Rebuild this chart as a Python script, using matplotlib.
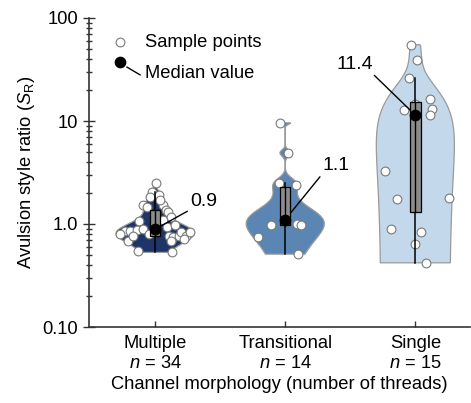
import numpy as np
import matplotlib.pyplot as plt
from matplotlib.ticker import FixedLocator, FixedFormatter, NullFormatter

plt.rcParams['font.family'] = ['Liberation Sans', 'DejaVu Sans']
plt.rcParams['mathtext.fontset'] = 'custom'
plt.rcParams['mathtext.rm'] = 'Liberation Sans'
plt.rcParams['mathtext.it'] = 'Liberation Sans:italic'

# avulsion style ratio, one list per channel type
categories = ["Multiple", "Transitional", "Single"]
multiple = [2.51, 2.05, 1.90, 1.83, 1.54, 1.52, 1.38, 1.31, 1.46, 1.10, 1.08, 1.10,
            1.17, 0.93, 0.97, 0.86, 0.86, 0.80, 0.88, 0.90, 0.77, 0.74, 0.77, 0.83,
            0.77, 0.83, 0.72, 0.69, 0.55, 0.53, 0.69, 0.80, 0.77, 1.70]
transitional = [9.6, 4.9, 2.5, 2.4, 1.9, 1.5, 1.12, 1.09, 1.05, 0.99, 0.98, 0.97,
                0.75, 0.51]
single = [55, 39.4, 25.9, 16.2, 13.2, 11.4, 12.8, 14.5, 3.3, 1.73, 1.77, 0.90,
          0.84, 0.64, 0.42]
# horizontal scatter of the sample points
multiple_jitter = [0.01, -0.02, 0.03, -0.04, -0.09, 0.06, 0.08, 0.10, -0.06, 0.0,
                   -0.12, 0.06, 0.12, 0.09, 0.15, -0.23, -0.19, -0.27, -0.14, -0.09,
                   0.11, 0.14, 0.18, 0.20, 0.24, 0.27, 0.22, -0.21, -0.13, 0.13,
                   0.12, -0.05, -0.17, 0.04]
transitional_jitter = [-0.04, 0.02, -0.05, 0.08, 0.0, 0.0, 0.0, 0.0, 0.0, 0.09, 0.12,
                       -0.11, -0.21, 0.10]
single_jitter = [-0.03, 0.01, -0.05, 0.11, 0.13, 0.11, -0.09, 0.0, -0.23, -0.14,
                 0.26, -0.19, 0.04, 0.0, 0.08]
colors = ["#1d3568", "#5b86b4", "#c3d8ea"]
counts = [34, 14, 15]

groups = [multiple, transitional, single]
jitters = [multiple_jitter, transitional_jitter, single_jitter]


def kde(vals, grid):
    # normal kernel, bandwidth from the median absolute deviation
    sig = np.median(np.abs(vals - np.median(vals))) / 0.6745
    h = sig * (4 / (3 * len(vals))) ** 0.2
    z = (grid[:, None] - vals[None, :]) / h
    return np.exp(-0.5 * z ** 2).sum(axis=1)


fig = plt.figure(figsize=(4.71, 4.03), dpi=100)
ax = fig.add_axes([89 / 471, 1 - 327 / 403, 381 / 471, 309 / 403])
ax.set_yscale('log')

half_width = 0.3
label_offsets = [(35, 28), (37, 54), (-42, 51)]

for i, (vals, jit, col) in enumerate(zip(groups, jitters, colors)):
    vals = np.array(vals, dtype=float)
    yy = np.logspace(np.log10(vals.min()), np.log10(vals.max()), 400)
    dens = kde(vals, yy)
    dens = dens / dens.max() * half_width
    xs = np.concatenate([i - dens, (i + dens)[::-1]])
    ys = np.concatenate([yy, yy[::-1]])
    ax.fill(xs, ys, facecolor=col, edgecolor='#9a9a9a', linewidth=0.9, zorder=1)

    # sample points
    ax.scatter(i + np.array(jit), vals, s=40, facecolor='white', edgecolor='#7a7a7a',
               linewidth=0.8, zorder=2)

    # box and whiskers
    q1, med, q3 = np.percentile(vals, [25, 50, 75])
    iqr = q3 - q1
    hi = vals[vals <= q3 + 1.5 * iqr].max()
    lo = vals[vals >= q1 - 1.5 * iqr].min()
    ax.plot([i, i], [lo, hi], color='black', lw=1.1, zorder=3)
    ax.add_patch(plt.Rectangle((i - 0.04, q1), 0.08, q3 - q1, facecolor='#8c8c8c',
                               edgecolor='black', linewidth=0.9, zorder=4))
    ax.plot([i, i], [q1, q3], color='black', lw=1.0, zorder=5)
    ax.scatter([i], [med], s=55, color='black', zorder=6)
    ax.annotate(f"{med:.1f}", xy=(i, med), xytext=label_offsets[i],
                textcoords='offset pixels', fontsize=14,
                ha='left' if i < 2 else 'right', va='center',
                arrowprops=dict(arrowstyle='-', color='black', lw=1.0,
                                relpos=(0, 0) if i < 2 else (0.95, 0),
                                shrinkA=0, shrinkB=3))

# legend drawn by hand
ax.scatter([0.081], [0.922], s=40, facecolor='white', edgecolor='#7a7a7a',
           linewidth=0.8, transform=ax.transAxes, clip_on=False)
ax.text(0.147, 0.922, "Sample points", transform=ax.transAxes, fontsize=13.2,
        va='center')
ax.scatter([0.081], [0.858], s=55, color='black', transform=ax.transAxes, clip_on=False)
ax.plot([0.0997, 0.134], [0.841, 0.816], color='black', lw=1.0, transform=ax.transAxes)
ax.text(0.147, 0.822, "Median value", transform=ax.transAxes, fontsize=13.2,
        va='center')

ax.set_ylim(0.1, 100)
ax.set_xlim(-0.508, 2.42)
ax.yaxis.set_major_locator(FixedLocator([0.1, 1, 10, 100]))
ax.yaxis.set_major_formatter(FixedFormatter(["0.10", "1.0", "10", "100"]))
ax.yaxis.set_minor_formatter(NullFormatter())
ax.set_xticks(range(3))
ax.set_xticklabels([f"{c}\n$\\mathit{{n}}$ = {n}" for c, n in zip(categories, counts)])

for s in ['top', 'right']:
    ax.spines[s].set_visible(False)
for s in ['left', 'bottom']:
    ax.spines[s].set_color('#333333')
    ax.spines[s].set_linewidth(1.2)
ax.tick_params(axis='y', which='major', direction='inout', length=8, width=1,
               color='#333333', labelsize=13.2, pad=4)
ax.tick_params(axis='y', which='minor', direction='inout', length=5, width=1,
               color='#333333')
ax.tick_params(axis='x', direction='in', length=4, width=1, color='#333333',
               labelsize=13.2, pad=6)

ax.set_ylabel(r"Avulsion style ratio ($\mathit{S}_\mathrm{R}$)", fontsize=13.2)
ax.set_xlabel("Channel morphology (number of threads)", fontsize=13.2, labelpad=3)

fig.savefig("out.png", dpi=100)
